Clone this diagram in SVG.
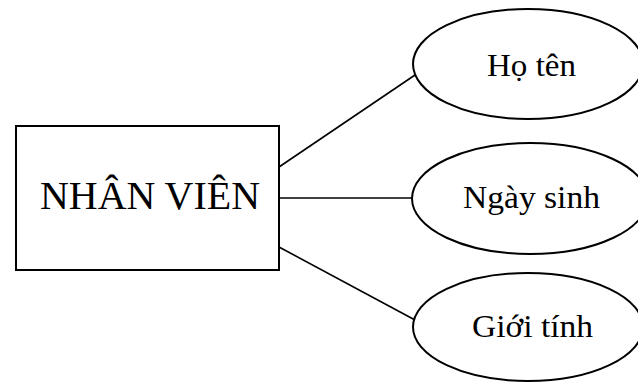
<svg xmlns="http://www.w3.org/2000/svg" width="638" height="382" viewBox="0 0 638 382">
<style>
.shape{fill:#fff;stroke:#000;stroke-width:2}
.conn line{stroke:#000;stroke-width:1.6}
text{font-family:"Liberation Serif","Times New Roman",serif;fill:#000;text-anchor:start}
</style>
<rect width="638" height="382" fill="#fff"/>
<g id="connectors" class="conn">
<line x1="279" y1="167" x2="415" y2="75"/>
<line x1="279" y1="198" x2="412" y2="198"/>
<line x1="279" y1="247" x2="415" y2="320"/>
</g>
<g id="nhanvien">
<rect class="shape" x="16" y="126" width="263" height="144"/>
<text x="40" y="209" font-size="40" textLength="220" lengthAdjust="spacingAndGlyphs">NHÂN VIÊN</text>
</g>
<g id="hoten">
<ellipse class="shape" cx="528" cy="64" rx="115" ry="55"/>
<text x="487" y="76" font-size="32" textLength="89" lengthAdjust="spacingAndGlyphs">Họ tên</text>
</g>
<g id="ngaysinh">
<ellipse class="shape" cx="530" cy="198.5" rx="118" ry="55.5"/>
<text x="463" y="208" font-size="32" textLength="137" lengthAdjust="spacingAndGlyphs">Ngày sinh</text>
</g>
<g id="gioitinh">
<ellipse class="shape" cx="528" cy="327" rx="115" ry="54"/>
<text x="472" y="337" font-size="32" textLength="121" lengthAdjust="spacingAndGlyphs">Giới tính</text>
</g>
</svg>
